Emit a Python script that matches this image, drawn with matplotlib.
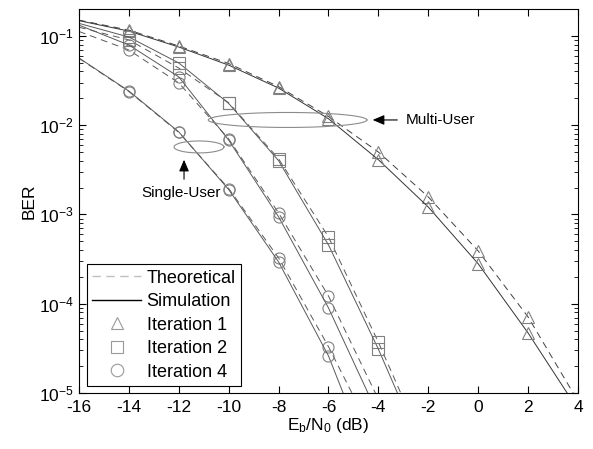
import numpy as np
import matplotlib
matplotlib.use('Agg')
import matplotlib.pyplot as plt
from matplotlib.lines import Line2D

plt.rcParams['font.family'] = ['Liberation Sans', 'DejaVu Sans']
plt.rcParams['mathtext.default'] = 'regular'

# Eb/N0 grid (dB)
ebn0 = [-16, -14, -12, -10, -8, -6, -4, -2, 0, 2, 4]

# multi-user, iteration 1
it1_sim = [0.148, 0.113, 0.075, 0.047, 0.026, 0.0118, 0.0041, 0.00121, 2.8e-4, 4.7e-5, 6.5e-6]
it1_th = [0.150, 0.116, 0.077, 0.049, 0.027, 0.0125, 0.0050, 0.00157, 3.9e-4, 7.1e-5, 8.1e-6]
# multi-user, iteration 2
it2_sim = [0.138, 0.097, 0.0497, 0.0175, 0.0040, 4.55e-4, 3.1e-5, 1.6e-6]
it2_th = [0.125, 0.090, 0.0436, 0.0178, 0.0042, 5.6e-4, 3.7e-5, 2.0e-6]
# multi-user, iteration 4
it4_sim = [0.132, 0.079, 0.0347, 0.0068, 9.4e-4, 8.97e-5, 5.6e-6]
it4_th = [0.112, 0.0695, 0.0297, 0.0070, 1.04e-3, 1.22e-4, 8.5e-6]
# single-user
su_sim = [0.0565, 0.0241, 0.0084, 0.0019, 2.94e-4, 2.6e-5, 1.0e-6]
su_th = [0.0560, 0.0238, 0.0083, 0.00195, 3.26e-4, 3.3e-5, 2.6e-6]

xticks = [-16, -14, -12, -10, -8, -6, -4, -2, 0, 2, 4]

fig = plt.figure(figsize=(5.93, 4.49), dpi=100)
ax = fig.add_axes([0.1332, 0.1247, 0.8415, 0.8553])

mcol = '0.5'
lcol = '0.35'

def curve(y, th, marker, nmark, col=lcol):
    x = ebn0[:len(y)]
    ax.semilogy(x, y, '--' if th else '-', color=col, lw=0.7, dashes=(7, 5) if th else (None, None))
    ax.semilogy(x[1:1 + nmark], y[1:1 + nmark], ls='none', marker=marker,
                mfc='none', mec=mcol, ms=8, mew=0.8)

curve(it1_th, True, '^', 9, '0.25')
curve(it1_sim, False, '^', 9, '0.2')
curve(it2_th, True, 's', 6)
curve(it2_sim, False, 's', 6)
curve(it4_th, True, 'o', 5)
curve(it4_sim, False, 'o', 5)
curve(su_th, True, 'o', 5)
curve(su_sim, False, 'o', 5)

# ellipses marking the two groups
t = np.linspace(0, 2 * np.pi, 200)
for xc, yc, a, b in [(-7.64, 0.01143, 3.18, 0.084), (-11.19, 0.0057, 1.0, 0.067)]:
    ax.semilogy(xc + a * np.cos(t), 10 ** (np.log10(yc) + b * np.sin(t)), color='0.55', lw=0.8)

ax.annotate('', xy=(-4.34, 0.01143), xytext=(-3.13, 0.01143),
            arrowprops=dict(arrowstyle='-|>,head_length=0.7,head_width=0.3', color='k', lw=0.8))
ax.text(-2.9, 0.01143, 'Multi-User', fontsize=11, va='center', ha='left')
ax.annotate('', xy=(-11.79, 0.0044), xytext=(-11.79, 0.00231),
            arrowprops=dict(arrowstyle='-|>,head_length=0.7,head_width=0.3', color='k', lw=0.8))
ax.text(-11.91, 0.00174, 'Single-User', fontsize=11, va='center', ha='center')

ax.set_xlim(-16, 4)
ax.set_ylim(1e-5, 0.2)
ax.set_xticks(xticks)
ax.set_xticklabels([str(v) for v in xticks])
ax.tick_params(which='both', direction='in', top=True, right=True, labelsize=12.5)
ax.tick_params(which='major', length=5, width=0.8)
ax.tick_params(which='minor', length=3, width=0.6)
ax.tick_params(axis='x', pad=5)
for s in ax.spines.values():
    s.set_linewidth(0.8)
ax.set_xlabel('E$_b$/N$_0$ (dB)', fontsize=12.5, labelpad=1)
ax.set_ylabel('BER', fontsize=12.5, labelpad=2)

handles = [Line2D([], [], color='0.75', ls='--', lw=1, dashes=(6, 4)),
           Line2D([], [], color='k', lw=1),
           Line2D([], [], ls='none', marker='^', mfc='none', mec='0.6', ms=9, mew=0.8),
           Line2D([], [], ls='none', marker='s', mfc='none', mec='0.6', ms=9, mew=0.8),
           Line2D([], [], ls='none', marker='o', mfc='none', mec='0.6', ms=9, mew=0.8)]
labels = ['Theoretical', 'Simulation', 'Iteration 1', 'Iteration 2', 'Iteration 4']
leg = ax.legend(handles, labels, loc='lower left', bbox_to_anchor=(0.016, 0.018),
                borderaxespad=0, fancybox=False, framealpha=1, edgecolor='k',
                fontsize=13, handlelength=2.7, handletextpad=0.3, labelspacing=0.36,
                borderpad=0.3)
leg.get_frame().set_linewidth(0.8)

fig.savefig('out.png', dpi=100)
